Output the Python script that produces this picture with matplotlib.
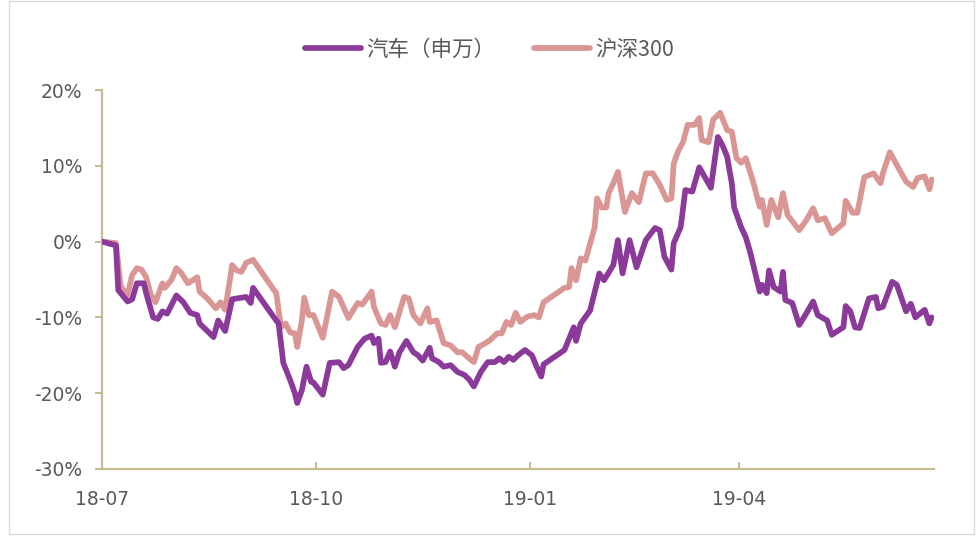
import matplotlib
matplotlib.use("Agg")
import matplotlib.pyplot as plt
import matplotlib.dates as mdates
from matplotlib.patches import Rectangle
import pandas as pd

plt.rcParams['font.family'] = ['DejaVu Sans', 'Noto Sans CJK SC']

# ---- data (cumulative return, %) ----
auto_label = "汽车（申万）"
hs_label = "沪深300"

auto_dates = [
    "2018-07-01", "2018-07-07", "2018-07-08", "2018-07-12", "2018-07-14", "2018-07-16",
    "2018-07-19", "2018-07-20", "2018-07-23", "2018-07-25", "2018-07-27", "2018-07-29",
    "2018-08-02", "2018-08-05", "2018-08-08", "2018-08-11", "2018-08-12", "2018-08-15",
    "2018-08-18", "2018-08-20", "2018-08-23", "2018-08-26", "2018-09-01", "2018-09-03",
    "2018-09-04", "2018-09-13", "2018-09-15", "2018-09-17", "2018-09-20", "2018-09-22",
    "2018-09-23", "2018-09-25", "2018-09-27", "2018-09-29", "2018-09-30", "2018-10-04",
    "2018-10-07", "2018-10-11", "2018-10-13", "2018-10-15", "2018-10-19", "2018-10-22",
    "2018-10-25", "2018-10-26", "2018-10-28", "2018-10-29", "2018-10-31", "2018-11-02",
    "2018-11-04", "2018-11-06", "2018-11-09", "2018-11-12", "2018-11-14", "2018-11-16",
    "2018-11-19", "2018-11-20", "2018-11-23", "2018-11-25", "2018-11-28", "2018-12-01",
    "2018-12-04", "2018-12-06", "2018-12-08", "2018-12-11", "2018-12-14", "2018-12-17",
    "2018-12-19", "2018-12-21", "2018-12-23", "2018-12-25", "2018-12-27", "2018-12-30",
    "2019-01-02", "2019-01-04", "2019-01-06", "2019-01-07", "2019-01-16", "2019-01-20",
    "2019-01-21", "2019-01-23", "2019-01-27", "2019-01-31", "2019-02-02", "2019-02-06",
    "2019-02-08", "2019-02-10", "2019-02-13", "2019-02-16", "2019-02-20", "2019-02-24",
    "2019-02-26", "2019-02-28", "2019-03-03", "2019-03-04", "2019-03-07", "2019-03-09",
    "2019-03-12", "2019-03-15", "2019-03-20", "2019-03-23", "2019-03-25", "2019-03-27",
    "2019-03-28", "2019-03-29", "2019-03-30", "2019-04-02", "2019-04-04", "2019-04-06",
    "2019-04-10", "2019-04-11", "2019-04-13", "2019-04-14", "2019-04-16", "2019-04-19",
    "2019-04-20", "2019-04-21", "2019-04-24", "2019-04-27", "2019-04-30", "2019-05-03",
    "2019-05-05", "2019-05-09", "2019-05-11", "2019-05-16", "2019-05-17", "2019-05-19",
    "2019-05-21", "2019-05-23", "2019-05-27", "2019-05-30", "2019-05-31", "2019-06-02",
    "2019-06-06", "2019-06-08", "2019-06-12", "2019-06-14", "2019-06-16", "2019-06-20",
    "2019-06-22", "2019-06-23",
]
auto_vals = [
    0.0, -0.5, -6.4, -7.9, -7.6, -5.5,
    -5.5, -6.8, -10.0, -10.2, -9.2, -9.5,
    -7.1, -8.0, -9.4, -9.7, -10.8, -11.7,
    -12.6, -10.4, -11.8, -7.6, -7.3, -8.1,
    -6.1, -10.0, -10.8, -16.0, -18.3, -20.0,
    -21.3, -19.6, -16.5, -18.5, -18.6, -20.2,
    -16.0, -15.9, -16.7, -16.3, -13.9, -12.8,
    -12.4, -13.4, -12.8, -16.0, -15.9, -14.5,
    -16.5, -14.6, -13.1, -14.6, -15.0, -15.7,
    -14.0, -15.4, -15.9, -16.5, -16.3, -17.2,
    -17.6, -18.2, -19.1, -17.2, -15.9, -15.9,
    -15.4, -15.9, -15.2, -15.6, -15.0, -14.3,
    -15.0, -16.5, -17.8, -16.2, -14.3, -11.3,
    -13.1, -10.8, -9.1, -4.2, -5.1, -3.1,
    0.2, -4.2, 0.2, -3.4, 0.2, 1.8,
    1.5, -2.0, -3.7, -0.2, 1.9, 6.8,
    6.6, 9.8, 7.1, 13.8, 12.7, 11.2,
    9.4, 7.7, 4.5, 1.9, 0.6, -1.5,
    -6.6, -5.7, -6.8, -3.8, -6.0, -6.6,
    -4.0, -7.7, -8.1, -11.0, -9.5, -7.9,
    -9.7, -10.4, -12.3, -11.3, -8.5, -9.2,
    -11.3, -11.4, -7.5, -7.3, -8.8, -8.6,
    -5.3, -5.7, -9.2, -8.2, -10.0, -9.0,
    -10.8, -10.0,
]

hs_dates = [
    "2018-07-01", "2018-07-07", "2018-07-09", "2018-07-11", "2018-07-12", "2018-07-14",
    "2018-07-16", "2018-07-18", "2018-07-20", "2018-07-22", "2018-07-24", "2018-07-27",
    "2018-07-28", "2018-07-31", "2018-08-02", "2018-08-04", "2018-08-07", "2018-08-11",
    "2018-08-12", "2018-08-15", "2018-08-19", "2018-08-21", "2018-08-23", "2018-08-26",
    "2018-08-28", "2018-08-30", "2018-09-01", "2018-09-04", "2018-09-13", "2018-09-14",
    "2018-09-16", "2018-09-18", "2018-09-20", "2018-09-22", "2018-09-23", "2018-09-25",
    "2018-09-26", "2018-09-28", "2018-09-30", "2018-10-04", "2018-10-08", "2018-10-11",
    "2018-10-15", "2018-10-19", "2018-10-21", "2018-10-25", "2018-10-26", "2018-10-29",
    "2018-10-31", "2018-11-02", "2018-11-04", "2018-11-08", "2018-11-10", "2018-11-12",
    "2018-11-15", "2018-11-18", "2018-11-19", "2018-11-22", "2018-11-25", "2018-11-28",
    "2018-12-01", "2018-12-03", "2018-12-06", "2018-12-08", "2018-12-10", "2018-12-13",
    "2018-12-15", "2018-12-18", "2018-12-20", "2018-12-22", "2018-12-24", "2018-12-26",
    "2018-12-28", "2018-12-31", "2019-01-03", "2019-01-05", "2019-01-07", "2019-01-16",
    "2019-01-18", "2019-01-19", "2019-01-21", "2019-01-23", "2019-01-25", "2019-01-29",
    "2019-01-30", "2019-02-01", "2019-02-03", "2019-02-04", "2019-02-06", "2019-02-08",
    "2019-02-11", "2019-02-14", "2019-02-17", "2019-02-20", "2019-02-23", "2019-02-26",
    "2019-03-01", "2019-03-03", "2019-03-04", "2019-03-06", "2019-03-08", "2019-03-10",
    "2019-03-13", "2019-03-15", "2019-03-16", "2019-03-19", "2019-03-21", "2019-03-24",
    "2019-03-27", "2019-03-29", "2019-03-31", "2019-04-02", "2019-04-04", "2019-04-07",
    "2019-04-10", "2019-04-11", "2019-04-13", "2019-04-15", "2019-04-18", "2019-04-20",
    "2019-04-22", "2019-04-27", "2019-04-30", "2019-05-03", "2019-05-05", "2019-05-08",
    "2019-05-11", "2019-05-16", "2019-05-17", "2019-05-20", "2019-05-22", "2019-05-25",
    "2019-05-29", "2019-06-01", "2019-06-02", "2019-06-05", "2019-06-08", "2019-06-12",
    "2019-06-15", "2019-06-17", "2019-06-20", "2019-06-22", "2019-06-23",
]
hs_vals = [
    0.0, -0.2, -5.8, -6.8, -7.0, -4.4,
    -3.5, -3.7, -4.7, -7.0, -8.0, -5.5,
    -6.1, -5.0, -3.5, -4.1, -5.5, -4.7,
    -6.6, -7.4, -8.8, -8.0, -9.0, -3.1,
    -3.8, -4.0, -2.8, -2.4, -6.4, -6.8,
    -11.3, -10.8, -12.0, -12.1, -13.9, -10.4,
    -7.4, -9.7, -9.7, -12.7, -6.6, -7.3,
    -10.1, -8.1, -8.3, -6.6, -8.6, -10.8,
    -11.0, -9.7, -11.3, -7.3, -7.5, -9.7,
    -10.8, -8.8, -10.6, -10.4, -13.4, -13.7,
    -14.6, -14.6, -15.4, -15.9, -13.9, -13.4,
    -13.0, -12.1, -12.1, -10.6, -11.0, -9.4,
    -10.6, -9.9, -9.7, -10.0, -8.0, -6.1,
    -6.0, -3.5, -5.1, -2.2, -2.5, 1.9,
    5.7, 4.5, 4.5, 6.4, 7.7, 9.2,
    3.9, 6.4, 5.2, 9.0, 9.0, 7.5,
    5.5, 5.7, 10.3, 12.0, 13.1, 15.4,
    15.4, 16.3, 13.4, 13.1, 16.1, 17.0,
    14.7, 14.5, 11.0, 10.4, 11.0, 8.1,
    4.6, 5.5, 2.2, 5.5, 3.2, 6.4,
    3.5, 1.5, 2.8, 4.4, 2.8, 3.1,
    1.1, 2.4, 5.4, 3.8, 3.8, 8.5,
    9.0, 7.7, 9.0, 11.8, 10.1, 7.9,
    7.2, 8.4, 8.6, 6.9, 8.2,
]

x_ticks = ["2018-07-01", "2018-10-01", "2019-01-01", "2019-04-01"]
x_ticklabels = ["18-07", "18-10", "19-01", "19-04"]
y_ticks = [-30, -20, -10, 0, 10, 20]

# ---- styles ----
c_auto = "#8B3A9A"
c_hs = "#DA9694"
axis_c = "#C6BC8F"
text_c = "#595959"

W, H = 979, 537
fig = plt.figure(figsize=(W / 100, H / 100), dpi=100)
ax = fig.add_axes([102 / W, 1 - 469 / H, (934 - 102) / W, (469 - 90) / H])

ad = pd.to_datetime(auto_dates)
hd = pd.to_datetime(hs_dates)
l1, = ax.plot(ad, auto_vals, color=c_auto, lw=4.1, solid_joinstyle="round",
              solid_capstyle="round", label=auto_label, zorder=3)
l2, = ax.plot(hd, hs_vals, color=c_hs, lw=4.1, solid_joinstyle="round",
              solid_capstyle="round", label=hs_label, zorder=2)

ax.set_xlim(pd.Timestamp("2018-07-01"), pd.Timestamp("2019-06-24"))
ax.set_ylim(-30, 20)
ax.set_yticks(y_ticks)
ax.set_yticklabels([f"{v}%" for v in y_ticks])
ax.set_xticks(pd.to_datetime(x_ticks))
ax.set_xticklabels(x_ticklabels)

for s in ["top", "right"]:
    ax.spines[s].set_visible(False)
for s in ["left", "bottom"]:
    ax.spines[s].set_color(axis_c)
    ax.spines[s].set_linewidth(1.6)

ax.tick_params(axis="y", direction="out", length=5, width=1.4, color=axis_c,
               labelsize=13.5, labelcolor=text_c, pad=9)
ax.tick_params(axis="x", direction="in", length=5, width=1.4, color=axis_c,
               labelsize=13.5, labelcolor=text_c, pad=15)

leg = fig.legend(handles=[l1, l2], loc="center", bbox_to_anchor=(0.5, 1 - 50 / H),
                 ncol=2, frameon=False, handlelength=2.6, handletextpad=0.25,
                 columnspacing=1.8,
                 prop={"family": ["Noto Sans CJK SC", "DejaVu Sans"], "size": 15.5})
for t in leg.get_texts():
    t.set_color(text_c)

# outer frame
fig.patches.append(Rectangle((9 / W, 1 - 534 / H), (974 - 9) / W, (534 - 1) / H,
                             transform=fig.transFigure, fill=False,
                             edgecolor="#D9D9D9", lw=1.0))

fig.savefig("out.png", dpi=100)
